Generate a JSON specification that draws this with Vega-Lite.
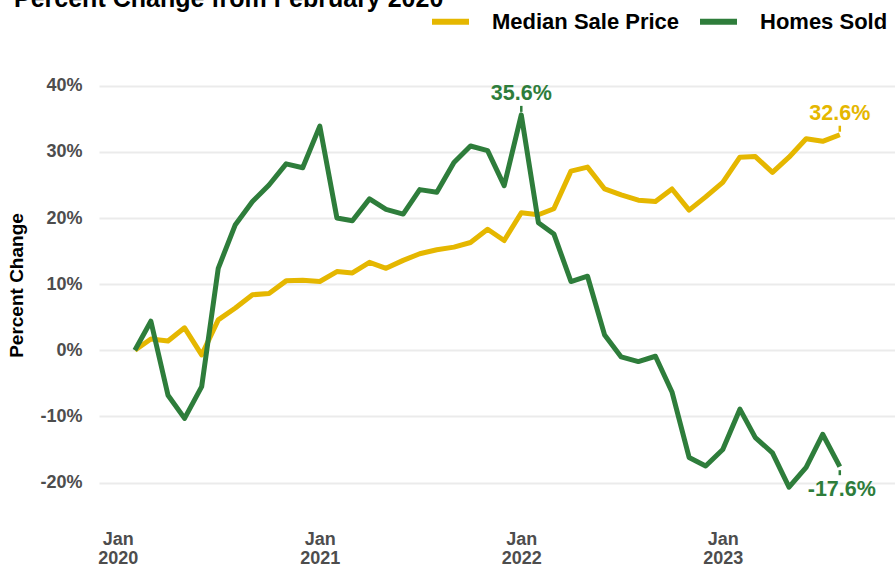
{
  "$schema": "https://vega.github.io/schema/vega-lite/v6.json",
  "width": 796,
  "height": 450,
  "autosize": {"type": "none"},
  "padding": {"left": 99, "top": 60, "right": 0, "bottom": 57},
  "title": {
    "text": "Percent Change from February 2020",
    "anchor": "start",
    "frame": "group",
    "dx": -85,
    "dy": 32,
    "fontSize": 25,
    "font": "Liberation Sans",
    "fontWeight": "bold",
    "color": "#000000",
    "baseline": "alphabetic",
    "offset": 0
  },
  "datasets": {
    "monthly": [
      {"month": "2020-02-01", "Median Sale Price": 0, "Homes Sold": 0},
      {"month": "2020-03-01", "Median Sale Price": 1.7, "Homes Sold": 4.4},
      {"month": "2020-04-01", "Median Sale Price": 1.4, "Homes Sold": -6.8},
      {"month": "2020-05-01", "Median Sale Price": 3.4, "Homes Sold": -10.3},
      {"month": "2020-06-01", "Median Sale Price": -0.7, "Homes Sold": -5.5},
      {"month": "2020-07-01", "Median Sale Price": 4.6, "Homes Sold": 12.4},
      {"month": "2020-08-01", "Median Sale Price": 6.4, "Homes Sold": 19.0},
      {"month": "2020-09-01", "Median Sale Price": 8.4, "Homes Sold": 22.5},
      {"month": "2020-10-01", "Median Sale Price": 8.6, "Homes Sold": 25.0},
      {"month": "2020-11-01", "Median Sale Price": 10.5, "Homes Sold": 28.2},
      {"month": "2020-12-01", "Median Sale Price": 10.6, "Homes Sold": 27.6},
      {"month": "2021-01-01", "Median Sale Price": 10.4, "Homes Sold": 33.9},
      {"month": "2021-02-01", "Median Sale Price": 11.9, "Homes Sold": 20.0},
      {"month": "2021-03-01", "Median Sale Price": 11.7, "Homes Sold": 19.6},
      {"month": "2021-04-01", "Median Sale Price": 13.3, "Homes Sold": 22.9},
      {"month": "2021-05-01", "Median Sale Price": 12.4, "Homes Sold": 21.3},
      {"month": "2021-06-01", "Median Sale Price": 13.6, "Homes Sold": 20.6},
      {"month": "2021-07-01", "Median Sale Price": 14.6, "Homes Sold": 24.3},
      {"month": "2021-08-01", "Median Sale Price": 15.2, "Homes Sold": 23.9},
      {"month": "2021-09-01", "Median Sale Price": 15.6, "Homes Sold": 28.4},
      {"month": "2021-10-01", "Median Sale Price": 16.3, "Homes Sold": 30.9},
      {"month": "2021-11-01", "Median Sale Price": 18.3, "Homes Sold": 30.2},
      {"month": "2021-12-01", "Median Sale Price": 16.6, "Homes Sold": 24.9},
      {"month": "2022-01-01", "Median Sale Price": 20.8, "Homes Sold": 35.6},
      {"month": "2022-02-01", "Median Sale Price": 20.5, "Homes Sold": 19.3},
      {"month": "2022-03-01", "Median Sale Price": 21.4, "Homes Sold": 17.6},
      {"month": "2022-04-01", "Median Sale Price": 27.1, "Homes Sold": 10.4},
      {"month": "2022-05-01", "Median Sale Price": 27.7, "Homes Sold": 11.2},
      {"month": "2022-06-01", "Median Sale Price": 24.4, "Homes Sold": 2.3},
      {"month": "2022-07-01", "Median Sale Price": 23.5, "Homes Sold": -1.0},
      {"month": "2022-08-01", "Median Sale Price": 22.7, "Homes Sold": -1.7},
      {"month": "2022-09-01", "Median Sale Price": 22.5, "Homes Sold": -0.9},
      {"month": "2022-10-01", "Median Sale Price": 24.4, "Homes Sold": -6.3},
      {"month": "2022-11-01", "Median Sale Price": 21.2, "Homes Sold": -16.2},
      {"month": "2022-12-01", "Median Sale Price": 23.2, "Homes Sold": -17.5},
      {"month": "2023-01-01", "Median Sale Price": 25.4, "Homes Sold": -15.0},
      {"month": "2023-02-01", "Median Sale Price": 29.2, "Homes Sold": -8.9},
      {"month": "2023-03-01", "Median Sale Price": 29.3, "Homes Sold": -13.2},
      {"month": "2023-04-01", "Median Sale Price": 26.9, "Homes Sold": -15.5},
      {"month": "2023-05-01", "Median Sale Price": 29.2, "Homes Sold": -20.7},
      {"month": "2023-06-01", "Median Sale Price": 32.0, "Homes Sold": -17.7},
      {"month": "2023-07-01", "Median Sale Price": 31.6, "Homes Sold": -12.7},
      {"month": "2023-08-01", "Median Sale Price": 32.6, "Homes Sold": -17.6}
    ],
    "labels": [
      {"month": "2022-01-01", "series": "Homes Sold", "value": 35.6, "label": "35.6%"},
      {"month": "2023-08-01", "series": "Median Sale Price", "value": 32.6, "label": "32.6%"},
      {"month": "2023-08-01", "series": "Homes Sold", "value": -17.6, "label": "-17.6%"}
    ]
  },
  "encoding": {
    "x": {
      "field": "month",
      "type": "temporal",
      "scale": {"domain": [{"year": 2019, "month": 11, "date": 28}, {"year": 2023, "month": 11, "date": 9}]},
      "axis": {
        "title": null,
        "values": [{"year": 2020, "month": 1, "date": 1}, {"year": 2021, "month": 1, "date": 1}, {"year": 2022, "month": 1, "date": 1}, {"year": 2023, "month": 1, "date": 1}],
        "labelExpr": "[timeFormat(datum.value, '%b'), timeFormat(datum.value, '%Y')]",
        "grid": false,
        "domain": false,
        "ticks": false,
        "labelPadding": 20,
        "labelBaseline": "top",
        "labelLineHeight": 19,
        "labelFontSize": 18,
        "labelFontWeight": "bold",
        "labelColor": "#4D4D4D",
        "labelFont": "Liberation Sans"
      }
    },
    "y": {
      "field": "value",
      "type": "quantitative",
      "scale": {"domain": [-24.15, 43.9], "nice": false, "zero": false},
      "axis": {
        "title": "Percent Change",
        "titleFont": "Liberation Sans",
        "titleFontSize": 19,
        "titleFontWeight": "bold",
        "titleColor": "#000000",
        "titlePadding": 13,
        "values": [-20, -10, 0, 10, 20, 30, 40],
        "labelExpr": "datum.value + '%'",
        "grid": true,
        "gridColor": "#EBEBEB",
        "gridWidth": 2,
        "domain": false,
        "ticks": false,
        "labelPadding": 17,
        "labelFontSize": 18,
        "labelFontWeight": "bold",
        "labelColor": "#4D4D4D",
        "labelFont": "Liberation Sans"
      }
    },
    "color": {
      "field": "series",
      "type": "nominal",
      "scale": {"domain": ["Median Sale Price", "Homes Sold"], "range": ["#E5B700", "#2E7D3B"]},
      "legend": {
        "title": null,
        "orient": "none",
        "direction": "horizontal",
        "legendX": 330,
        "legendY": -60,
        "padding": 0,
        "symbolType": "stroke",
        "symbolStrokeWidth": 6,
        "symbolSize": 1369,
        "labelOffset": 20,
        "labelLimit": 400,
        "columnPadding": 8,
        "labelFont": "Liberation Sans",
        "labelFontSize": 22,
        "labelFontWeight": "bold",
        "labelColor": "#000000"
      }
    }
  },
  "layer": [
    {
      "data": {"name": "monthly"},
      "transform": [{"fold": ["Median Sale Price", "Homes Sold"], "as": ["series", "value"]}],
      "mark": {"type": "line", "strokeWidth": 5, "strokeJoin": "round"}
    },
    {
      "data": {"name": "labels"},
      "transform": [{"filter": "datum.value > 0"}],
      "mark": {"type": "rule", "strokeWidth": 2.5, "yOffset": -9, "y2Offset": -3},
      "encoding": {"y2": {"field": "value"}}
    },
    {
      "data": {"name": "labels"},
      "transform": [{"filter": "datum.value < 0"}],
      "mark": {"type": "rule", "strokeWidth": 2.5, "yOffset": 3.5, "y2Offset": 8.5},
      "encoding": {"y2": {"field": "value"}}
    },
    {
      "data": {"name": "labels"},
      "transform": [{"filter": "datum.value > 0"}],
      "mark": {"type": "text", "dy": -14.5, "baseline": "alphabetic", "align": "center", "font": "Liberation Sans", "fontSize": 21.5, "fontWeight": "bold"},
      "encoding": {"text": {"field": "label"}}
    },
    {
      "data": {"name": "labels"},
      "transform": [{"filter": "datum.value < 0"}],
      "mark": {"type": "text", "dy": 29.5, "dx": 2, "baseline": "alphabetic", "align": "center", "font": "Liberation Sans", "fontSize": 21.5, "fontWeight": "bold"},
      "encoding": {"text": {"field": "label"}}
    }
  ],
  "config": {
    "view": {"stroke": null},
    "font": "Liberation Sans"
  }
}
